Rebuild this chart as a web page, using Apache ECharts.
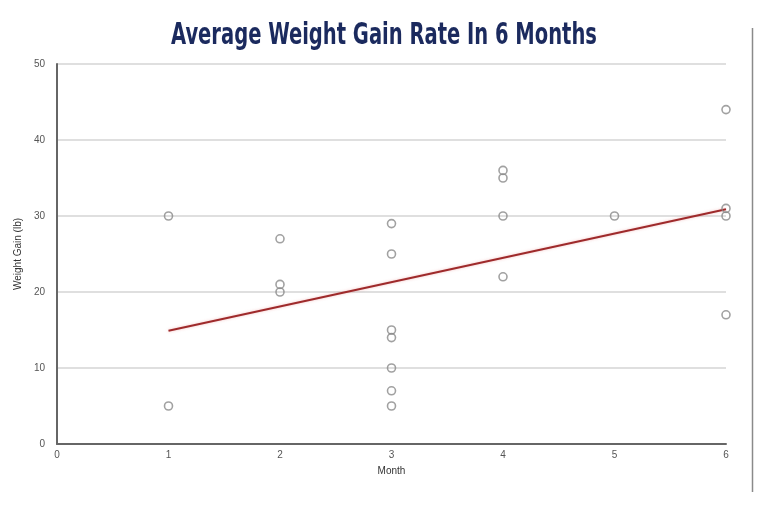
<!DOCTYPE html>
<html>
<head>
<meta charset="utf-8">
<script src="https://cdn.jsdelivr.net/npm/echarts@6/dist/echarts.min.js"></script>
<style>html,body{margin:0;padding:0;background:#fff}#c{width:768px;height:512px}</style>
</head>
<body>
<div id="c"></div>
<script>
var titleText = "Average Weight Gain Rate In 6 Months";
var months = [1,1,2,2,2,3,3,3,3,3,3,3,4,4,4,4,5,6,6,6,6];
var gains  = [30,5,27,21,20,29,25,15,14,10,7,5,36,35,30,22,30,44,31,30,17];
var trendX = [1,6];
var trendY = [14.9,30.9];
var xTicks = [0,1,2,3,4,5,6];
var yTicks = [0,10,20,30,40,50];

var points = months.map(function(m,i){return [m,gains[i]];});
var trend = trendX.map(function(x,i){return [x,trendY[i]];});

var chart = echarts.init(document.getElementById('c'), null, {renderer:'canvas'});
chart.setOption({
  backgroundColor:'#ffffff',
  animation:false,
  grid:{left:57,right:42,top:64,bottom:68},
  graphic:[
    {type:'text', x:384, y:36, scaleX:0.70, originX:0, originY:0,
     style:{text:titleText, fill:'#1b2a5e', font:'bold 31px "DejaVu Sans Condensed", "DejaVu Sans", sans-serif', textAlign:'center', textVerticalAlign:'middle'}},
    {type:'line', shape:{x1:752.5,y1:28,x2:752.5,y2:492}, style:{stroke:'#8a8a8a', lineWidth:1.5}}
  ],
  xAxis:{type:'value', min:xTicks[0], max:xTicks[xTicks.length-1], interval:1,
    name:'Month', nameLocation:'middle', nameGap:22,
    nameTextStyle:{color:'#333', fontSize:10, fontFamily:'Liberation Sans, Arial, sans-serif'},
    axisLine:{show:true, lineStyle:{color:'#666', width:2}},
    axisTick:{show:false}, splitLine:{show:false},
    axisLabel:{color:'#555', fontSize:10, margin:6, fontFamily:'Liberation Sans, Arial, sans-serif'}},
  yAxis:{type:'value', min:yTicks[0], max:yTicks[yTicks.length-1], interval:10,
    name:'Weight Gain (lb)', nameLocation:'middle', nameGap:24, nameRotate:90,
    nameTextStyle:{color:'#333', fontSize:10, fontFamily:'Liberation Sans, Arial, sans-serif'},
    axisLine:{show:true, lineStyle:{color:'#666', width:2}},
    axisTick:{show:false},
    splitLine:{show:true, lineStyle:{color:'#d4d4d4', width:1.5}},
    axisLabel:{color:'#555', fontSize:10, margin:12, fontFamily:'Liberation Sans, Arial, sans-serif'}},
  series:[
    {type:'line', data:trend, symbol:'none', z:3,
     lineStyle:{color:'#9e2a2b', width:2, shadowColor:'rgba(220,80,80,0.35)', shadowBlur:3}},
    {type:'scatter', data:points, symbol:'circle', symbolSize:8, z:4,
     itemStyle:{color:'rgba(255,255,255,0)', borderColor:'#8a8a8a', borderWidth:1.6}}
  ]
});
</script>
</body>
</html>
